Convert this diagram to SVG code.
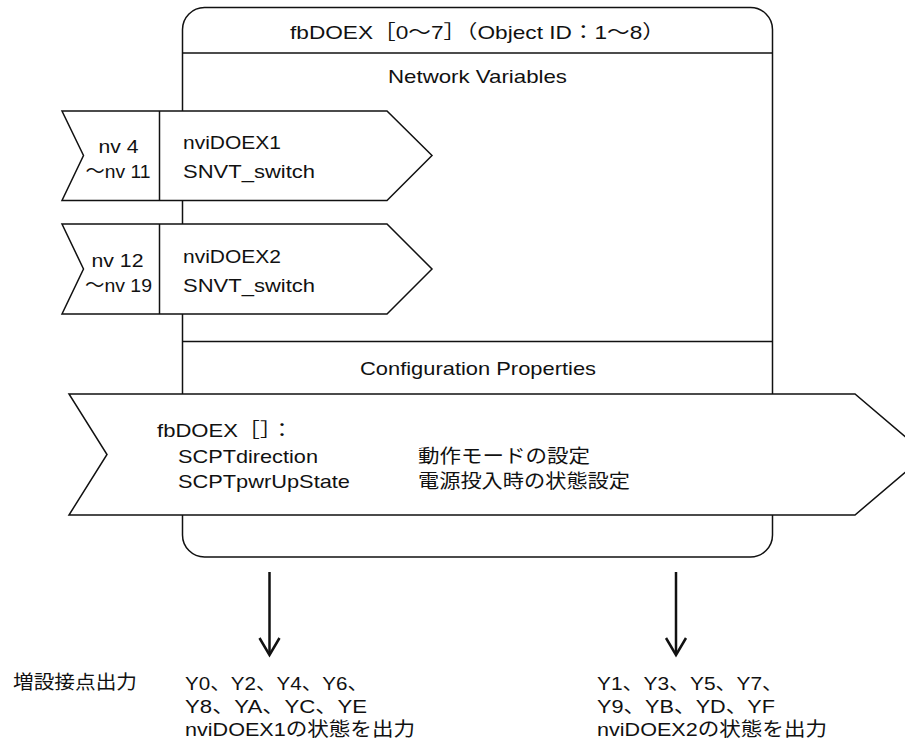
<svg xmlns="http://www.w3.org/2000/svg" width="905" height="747" viewBox="0 0 905 747">
<style>
.t{font-family:"Liberation Sans","Noto Sans CJK JP",sans-serif;font-size:19px;fill:#111}
.m{text-anchor:middle}
.box{fill:#fff;stroke:#111;stroke-width:1.5}
.ln{stroke:#111;stroke-width:1.5;fill:none}
.ar{stroke:#111;stroke-width:2.5;fill:none}
</style>
<rect width="905" height="747" fill="#fff"/>
<g id="fbDOEX">
<path class="box" d="M204.5 7.5H750.5A22 22 0 0 1 772.5 29.5V535A22 22 0 0 1 750.5 557H204.5A22 22 0 0 1 182.5 535V29.5A22 22 0 0 1 204.5 7.5Z"/>
<line class="ln" x1="182.5" y1="53" x2="772.5" y2="53"/>
<line class="ln" x1="182.5" y1="341.5" x2="772.5" y2="341.5"/>
<text class="t m" x="477.5" y="39" textLength="375" lengthAdjust="spacingAndGlyphs">fbDOEX［0〜7］（Object ID：1〜8）</text>
<text class="t m" x="477.5" y="83" textLength="179" lengthAdjust="spacingAndGlyphs">Network Variables</text>
<text class="t m" x="478" y="375" textLength="236" lengthAdjust="spacingAndGlyphs">Configuration Properties</text>
</g>
<g id="nviDOEX1">
<polygon class="box" points="62,111 387,111 432,155.5 387,200.5 62,200.5 83.5,155.5"/>
<line class="ln" x1="159.5" y1="111" x2="159.5" y2="200.5"/>
<text class="t m" x="118.5" y="153" textLength="40" lengthAdjust="spacingAndGlyphs">nv 4</text>
<text class="t m" x="118" y="178" textLength="65" lengthAdjust="spacingAndGlyphs">〜nv 11</text>
<text class="t" x="183" y="149" textLength="98" lengthAdjust="spacingAndGlyphs">nviDOEX1</text>
<text class="t" x="183" y="178" textLength="132" lengthAdjust="spacingAndGlyphs">SNVT_switch</text>
</g>
<g id="nviDOEX2">
<polygon class="box" points="62,224 387,224 432,269 387,314 62,314 83.5,269"/>
<line class="ln" x1="159.5" y1="224" x2="159.5" y2="314"/>
<text class="t m" x="117.5" y="267" textLength="52" lengthAdjust="spacingAndGlyphs">nv 12</text>
<text class="t m" x="118.5" y="292" textLength="67" lengthAdjust="spacingAndGlyphs">〜nv 19</text>
<text class="t" x="183" y="263" textLength="98" lengthAdjust="spacingAndGlyphs">nviDOEX2</text>
<text class="t" x="183" y="292" textLength="132" lengthAdjust="spacingAndGlyphs">SNVT_switch</text>
</g>
<g id="config">
<polygon class="box" points="69,394 855,394 926,454.5 855,515 69,515 107,454.5"/>
<text class="t" x="157" y="437" textLength="136" lengthAdjust="spacingAndGlyphs">fbDOEX［］：</text>
<text class="t" x="178" y="463" textLength="140" lengthAdjust="spacingAndGlyphs">SCPTdirection</text>
<text class="t" x="178" y="488" textLength="172" lengthAdjust="spacingAndGlyphs">SCPTpwrUpState</text>
<text class="t" x="418" y="463" textLength="172" lengthAdjust="spacingAndGlyphs">動作モードの設定</text>
<text class="t" x="418" y="488" textLength="212" lengthAdjust="spacingAndGlyphs">電源投入時の状態設定</text>
</g>
<g id="connectors">
<line class="ar" x1="269.5" y1="572" x2="269.5" y2="654"/>
<polyline class="ar" points="259.5,638 269.5,655 279.5,638"/>
<line class="ar" x1="676" y1="572" x2="676" y2="654"/>
<polyline class="ar" points="666,638 676,655 686,638"/>
</g>
<g id="outputs">
<text class="t" x="13" y="689" textLength="124" lengthAdjust="spacingAndGlyphs">増設接点出力</text>
<text class="t" x="185" y="690" textLength="183" lengthAdjust="spacingAndGlyphs">Y0、Y2、Y4、Y6、</text>
<text class="t" x="185" y="713" textLength="182" lengthAdjust="spacingAndGlyphs">Y8、YA、YC、YE</text>
<text class="t" x="185" y="736" textLength="230" lengthAdjust="spacingAndGlyphs">nviDOEX1の状態を出力</text>
<text class="t" x="597" y="690" textLength="186" lengthAdjust="spacingAndGlyphs">Y1、Y3、Y5、Y7、</text>
<text class="t" x="597" y="713" textLength="178" lengthAdjust="spacingAndGlyphs">Y9、YB、YD、YF</text>
<text class="t" x="597" y="736" textLength="230" lengthAdjust="spacingAndGlyphs">nviDOEX2の状態を出力</text>
</g>
</svg>
